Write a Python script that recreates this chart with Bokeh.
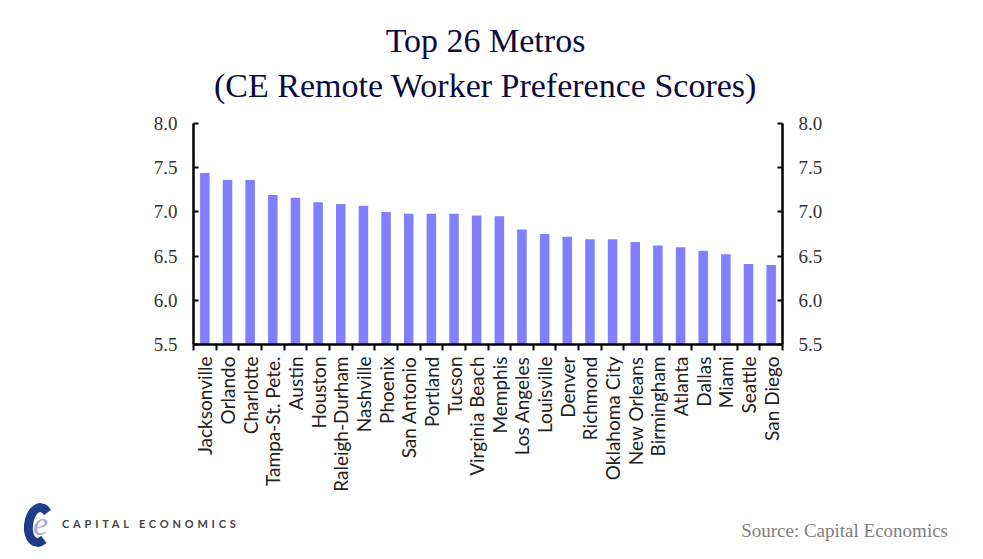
import math
from bokeh.plotting import figure
from bokeh.layouts import column
from bokeh.models import (ColumnDataSource, LinearAxis, FixedTicker, Range1d,
                          NumeralTickFormatter, Div)
from bokeh.core.properties import value
from bokeh.embed import file_html
from bokeh.resources import INLINE

# ---- data ----
metros = ["Jacksonville", "Orlando", "Charlotte", "Tampa-St. Pete.", "Austin",
          "Houston", "Raleigh-Durham", "Nashville", "Phoenix", "San Antonio",
          "Portland", "Tucson", "Virginia Beach", "Memphis", "Los Angeles",
          "Louisville", "Denver", "Richmond", "Oklahoma City", "New Orleans",
          "Birmingham", "Atlanta", "Dallas", "Miami", "Seattle", "San Diego"]
scores = [7.44, 7.36, 7.36, 7.19, 7.16, 7.11, 7.09, 7.07, 7.00, 6.98,
          6.98, 6.98, 6.96, 6.95, 6.80, 6.75, 6.72, 6.69, 6.69, 6.66,
          6.62, 6.60, 6.56, 6.52, 6.41, 6.40]
y_ticks = [5.5, 6.0, 6.5, 7.0, 7.5, 8.0]
title_lines = ["Top 26 Metros", "(CE Remote Worker Preference Scores)"]
source_text = "Source: Capital Economics"
brand_text = "CAPITAL ECONOMICS"

W = 983
HEAD_H, MAIN_H, FOOT_H = 106, 394, 59
FL, FR = 193, 782                 # frame left/right (px)
FT, FB = 123, 344                 # frame top/bottom (canvas px)

# ---- header (titles) ----
head = figure(width=W, height=HEAD_H, output_backend="svg", toolbar_location=None,
              x_range=Range1d(FL, FR), y_range=Range1d(HEAD_H, 0),
              min_border_left=FL, min_border_right=W - FR,
              min_border_top=0, min_border_bottom=0,
              x_axis_location=None, y_axis_location=None)
head.outline_line_color = None
head.xgrid.visible = False
head.ygrid.visible = False
head.text(x=[485, 485], y=[40, 85], text=title_lines,
          text_font=value("Liberation Serif"), text_font_size="34px",
          text_color="#0b0b40", text_align="center", text_baseline="alphabetic")

# ---- main chart ----
idx = list(range(len(metros)))
src = ColumnDataSource(dict(x=idx, top=scores, name=metros))

p = figure(width=W, height=MAIN_H, output_backend="svg", toolbar_location=None,
           x_range=Range1d(-0.5, len(metros) - 0.5),
           y_range=Range1d(y_ticks[0], y_ticks[-1]),
           min_border_left=FL, min_border_right=W - FR,
           min_border_top=FT - HEAD_H, min_border_bottom=HEAD_H + MAIN_H - FB,
           x_axis_location=None, y_axis_location=None)
p.outline_line_color = None
p.xgrid.visible = False
p.ygrid.visible = False

p.vbar(x="x", top="top", bottom=y_ticks[0], width=0.42, source=src,
       fill_color="#8080FF", line_color=None)

AX = "#000000"
xa = LinearAxis(ticker=FixedTicker(ticks=idx,
                                   minor_ticks=[i - 0.5 for i in range(len(metros) + 1)]),
                major_label_overrides={i: m for i, m in zip(idx, metros)},
                major_label_orientation=math.pi / 2,
                major_tick_in=0, major_tick_out=0,
                minor_tick_in=0, minor_tick_out=6,
                minor_tick_line_color=AX, minor_tick_line_width=2,
                axis_line_color=AX, axis_line_width=2.5,
                major_label_standoff=6,
                major_label_text_font="Lato",
                major_label_text_font_size="19px",
                major_label_text_color="#222222")
p.add_layout(xa, "below")

for side in ("left", "right"):
    ya = LinearAxis(ticker=FixedTicker(ticks=y_ticks, minor_ticks=[]),
                    formatter=NumeralTickFormatter(format="0.0"),
                    major_tick_in=5, major_tick_out=0,
                    major_tick_line_color=AX, major_tick_line_width=2,
                    minor_tick_in=0, minor_tick_out=0,
                    axis_line_color=AX, axis_line_width=2.5,
                    major_label_standoff=16,
                    major_label_text_font="Liberation Serif",
                    major_label_text_font_size="19px",
                    major_label_text_color="#333333")
    p.add_layout(ya, side)

# ---- footer (logo, brand, source) ----
foot_html = f"""
<div style="position:relative;width:{W}px;height:{FOOT_H}px;background:white;overflow:hidden;">
  <div style="position:absolute;left:24px;top:3px;width:30px;height:44px;box-sizing:border-box;
              border:9px solid #1f3c8c;border-right-color:transparent;border-radius:50%;
              transform:rotate(8deg);"></div>
  <span style="position:absolute;left:33px;top:7px;font-family:'Liberation Serif';font-style:italic;
               font-size:34px;line-height:34px;color:#a6acd9;">e</span>
  <span style="position:absolute;left:62px;top:18px;font-family:Lato;font-weight:bold;
               font-size:11px;line-height:12px;letter-spacing:3.8px;color:#444444;
               white-space:nowrap;">{brand_text}</span>
  <span style="position:absolute;right:{W - 948}px;top:21px;font-family:'Liberation Serif';
               font-size:19px;line-height:19px;color:#808080;white-space:nowrap;">{source_text}</span>
</div>
"""
foot = Div(text=foot_html, width=W, height=FOOT_H, margin=0)

layout = column(head, p, foot, spacing=0)
open("out.html", "w").write(file_html(layout, INLINE))
